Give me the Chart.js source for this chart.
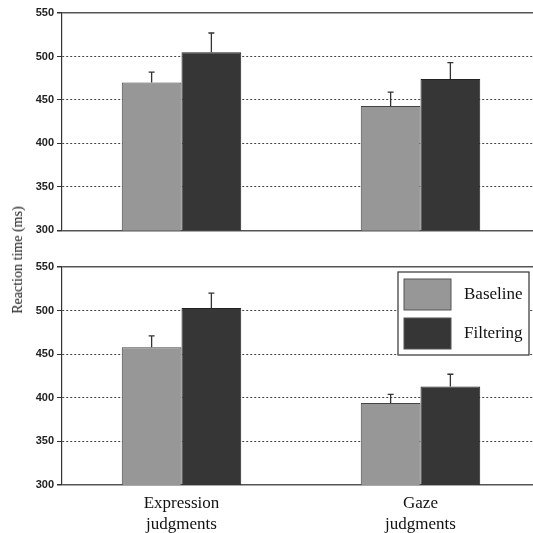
<!DOCTYPE html>
<html>
<head>
<meta charset="utf-8">
<script src="https://cdn.jsdelivr.net/npm/chart.js@4.4.1/dist/chart.umd.min.js"></script>
<style>
  html, body { margin: 0; padding: 0; background: #fff; overflow: hidden; }
  #wrap { position: relative; width: 533px; height: 533px; overflow: hidden; }
  #topBox { position: absolute; left: 0; top: 0; width: 540px; height: 240px; }
  #bottomBox { position: absolute; left: 0; top: 240px; width: 540px; height: 293px; }
  #yTitle {
    position: absolute; left: 18px; top: 260px;
    transform: translate(-50%, -50%) rotate(-90deg);
    font-family: "Liberation Serif", "Times New Roman", serif;
    font-size: 14px; color: #111; white-space: nowrap;
  }
</style>
</head>
<body>
<div id="wrap">
  <div id="topBox"><canvas id="topChart"></canvas></div>
  <div id="bottomBox"><canvas id="bottomChart"></canvas></div>
  <div id="yTitle">Reaction time (ms)</div>
</div>
<script>
// data
const categories = [['Expression', 'judgments'], ['Gaze', 'judgments']];
const seriesNames = ['Baseline', 'Filtering'];

const topBaseline = [470, 443];
const topBaselineErr = [12, 16];
const topFiltering = [505, 474];
const topFilteringErr = [22, 19];

const bottomBaseline = [458, 394];
const bottomBaselineErr = [13, 10];
const bottomFiltering = [503, 413];
const bottomFilteringErr = [17, 14];

const yTicks = [300, 350, 400, 450, 500, 550];

const baselineColor = '#979797';
const filteringColor = '#363636';

// error bars (upper half only, like the original)
const errorBars = {
    id: 'errorBars',
    afterDatasetsDraw(chart) {
        const ctx = chart.ctx;
        const yScale = chart.scales.y;
        chart.data.datasets.forEach((ds, di) => {
            const meta = chart.getDatasetMeta(di);
            meta.data.forEach((bar, i) => {
                const top = yScale.getPixelForValue(ds.data[i] + ds.errors[i]);
                ctx.save();
                ctx.strokeStyle = '#333';
                ctx.lineWidth = 1.3;
                ctx.beginPath();
                ctx.moveTo(bar.x, bar.y);
                ctx.lineTo(bar.x, top);
                ctx.moveTo(bar.x - 3, top);
                ctx.lineTo(bar.x + 3, top);
                ctx.stroke();
                ctx.restore();
            });
        });
    }
};

// boxed legend inside the lower panel
const boxLegend = {
    id: 'boxLegend',
    afterDraw(chart) {
        if (!chart.options.plugins.boxLegend || !chart.options.plugins.boxLegend.show) return;
        const ctx = chart.ctx;
        const x0 = 398, y0 = 32, w = 131, h = 83;
        ctx.save();
        ctx.fillStyle = '#fff';
        ctx.fillRect(x0, y0, w, h);
        ctx.strokeStyle = '#333';
        ctx.lineWidth = 1.2;
        ctx.strokeRect(x0, y0, w, h);
        chart.data.datasets.forEach((ds, i) => {
            const sy = y0 + 7 + i * 39;
            ctx.fillStyle = ds.backgroundColor;
            ctx.fillRect(x0 + 6, sy, 47, 31);
            ctx.strokeStyle = '#555';
            ctx.lineWidth = 1;
            ctx.strokeRect(x0 + 6, sy, 47, 31);
            ctx.fillStyle = '#111';
            ctx.font = '17px "Liberation Serif", "Times New Roman", serif';
            ctx.textBaseline = 'middle';
            ctx.textAlign = 'left';
            ctx.fillText(ds.label, x0 + 66, sy + 16);
        });
        ctx.restore();
    }
};

function makeDatasets(base, baseErr, filt, filtErr) {
    return [
        { label: seriesNames[0], data: base, errors: baseErr, backgroundColor: baselineColor,
          borderColor: '#444', borderWidth: 1, categoryPercentage: 0.5, barPercentage: 1.0 },
        { label: seriesNames[1], data: filt, errors: filtErr, backgroundColor: filteringColor,
          borderColor: '#222', borderWidth: 1, categoryPercentage: 0.5, barPercentage: 1.0 }
    ];
}

function yScaleOptions() {
    return {
        min: yTicks[0],
        max: yTicks[yTicks.length - 1],
        afterBuildTicks: (scale) => { scale.ticks = yTicks.map(v => ({ value: v })); },
        afterFit: (scale) => { scale.width = 62; },
        border: {
            display: true, color: '#333', width: 1.2,
            dash: (c) => (c.tick && c.tick.value !== 300 && c.tick.value !== 550) ? [2, 2] : []
        },
        grid: {
            color: (c) => (c.tick && (c.tick.value === 300 || c.tick.value === 550)) ? '#555' : '#444',
            lineWidth: (c) => (c.tick && (c.tick.value === 300 || c.tick.value === 550)) ? 1.5 : 1,
            tickLength: 5,
            tickColor: '#333'
        },
        ticks: {
            color: '#222',
            padding: 3,
            font: { family: '"Liberation Sans", Arial, sans-serif', size: 11, weight: 'bold' }
        }
    };
}

function baseOptions() {
    return {
        responsive: true,
        maintainAspectRatio: false,
        animation: false,
        plugins: { legend: { display: false }, tooltip: { enabled: false } },
        scales: {}
    };
}

// top panel
const topOpts = baseOptions();
topOpts.layout = { padding: { top: 13, bottom: 9, left: 0, right: 0 } };
topOpts.scales = {
    x: { display: false },
    y: yScaleOptions()
};
new Chart(document.getElementById('topChart'), {
    type: 'bar',
    data: { labels: categories, datasets: makeDatasets(topBaseline, topBaselineErr, topFiltering, topFilteringErr) },
    options: topOpts,
    plugins: [errorBars]
});

// bottom panel
const bottomOpts = baseOptions();
bottomOpts.layout = { padding: { top: 27, bottom: 0, left: 0, right: 0 } };
bottomOpts.plugins.boxLegend = { show: true };
bottomOpts.scales = {
    x: {
        grid: { display: false, drawTicks: false },
        border: { display: false },
        afterFit: (scale) => { scale.height = 48; },
        ticks: {
            color: '#111',
            padding: 8,
            maxRotation: 0,
            font: { family: '"Liberation Serif", "Times New Roman", serif', size: 17, lineHeight: 1.25 }
        }
    },
    y: yScaleOptions()
};
new Chart(document.getElementById('bottomChart'), {
    type: 'bar',
    data: { labels: categories, datasets: makeDatasets(bottomBaseline, bottomBaselineErr, bottomFiltering, bottomFilteringErr) },
    options: bottomOpts,
    plugins: [errorBars, boxLegend]
});
</script>
</body>
</html>
